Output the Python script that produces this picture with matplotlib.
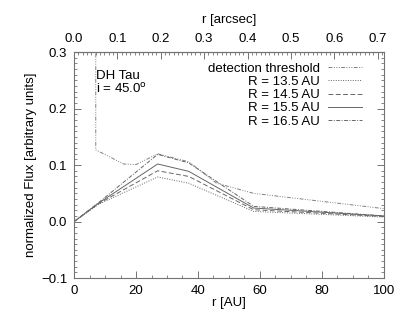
import matplotlib
matplotlib.use('Agg')
import matplotlib.pyplot as plt
from matplotlib.ticker import MultipleLocator

plt.rcParams['font.family'] = ['Liberation Sans', 'DejaVu Sans']
plt.rcParams['font.size'] = 9.5

# detection threshold
r_thr = [7, 7, 16, 20, 27, 37, 46, 58, 100]
f_thr = [0.32, 0.127, 0.102, 0.101, 0.120, 0.106, 0.068, 0.050, 0.023]

# model curves
r_mod = [0, 8, 27, 37, 58, 100]
f_135 = [0, 0.031, 0.079, 0.068, 0.018, 0.008]
f_145 = [0, 0.032, 0.090, 0.080, 0.021, 0.009]
f_155 = [0, 0.033, 0.102, 0.089, 0.024, 0.010]
f_165 = [0, 0.034, 0.119, 0.104, 0.027, 0.010]

arcsec_ticks = [0.0, 0.1, 0.2, 0.3, 0.4, 0.5, 0.6, 0.7]
dist_pc = 140.0  # AU per arcsec

fig = plt.figure(figsize=(4.07, 3.26), dpi=100)
ax = fig.add_axes([0.182, 0.147, 0.761, 0.693])

lc = '0.4'
ax.plot(r_thr, f_thr, color='0.5', lw=0.7, ls=(0, (4, 1.5, 1, 1.5, 1, 1.5, 1, 1.5)), label='detection threshold')
ax.plot(r_mod, f_135, color=lc, lw=0.7, ls=(0, (1, 1.5)), label='R = 13.5 AU')
ax.plot(r_mod, f_145, color=lc, lw=0.7, ls=(0, (5, 2.5)), label='R = 14.5 AU')
ax.plot(r_mod, f_155, color=lc, lw=0.7, ls='-', label='R = 15.5 AU')
ax.plot(r_mod, f_165, color=lc, lw=0.7, ls=(0, (4, 1.5, 1, 1.5)), label='R = 16.5 AU')

ax.set_xlim(0, 100)
ax.set_ylim(-0.1, 0.3)
ax.xaxis.set_major_locator(MultipleLocator(20))
ax.xaxis.set_minor_locator(MultipleLocator(5))
ax.yaxis.set_major_locator(MultipleLocator(0.1))
ax.yaxis.set_minor_locator(MultipleLocator(0.01))
ax.tick_params(which='both', direction='in', top=False, right=True, color='0.45')
ax.tick_params(which='major', length=5, width=0.7, pad=5)
ax.tick_params(which='minor', length=2.5, width=0.6)
ax.set_yticks([-0.1, 0.0, 0.1, 0.2, 0.3])
ax.set_yticklabels(['\u22120.1', '0.0', '0.1', '0.2', '0.3'])
for s in ax.spines.values():
    s.set_color('0.45')
    s.set_linewidth(0.8)

sec = ax.secondary_xaxis('top', functions=(lambda r: r / dist_pc, lambda a: a * dist_pc))
sec.set_xticks(arcsec_ticks)
sec.set_xticklabels(['%.1f' % a for a in arcsec_ticks])
sec.xaxis.set_minor_locator(MultipleLocator(0.01))
sec.tick_params(which='both', direction='in', color='0.45')
sec.tick_params(which='major', length=5, width=0.7, pad=5)
sec.tick_params(which='minor', length=2.5, width=0.6)
sec.spines['top'].set_color('0.45')
sec.set_xlabel('r [arcsec]', labelpad=7)

ax.set_xlabel('r [AU]', labelpad=0)
ax.set_ylabel('normalized Flux [arbitrary units]', labelpad=3)

ax.text(0.07, 0.92, 'DH Tau\ni = 45.0$^\\mathrm{o}$', transform=ax.transAxes,
        ha='left', va='top', linespacing=0.95)

leg = ax.legend(loc='upper right', bbox_to_anchor=(0.93, 0.955), frameon=False,
                markerfirst=False, borderpad=0, borderaxespad=0,
                handlelength=2.6, handletextpad=0.6, labelspacing=0.08)

fig.savefig('out.png', dpi=100)
